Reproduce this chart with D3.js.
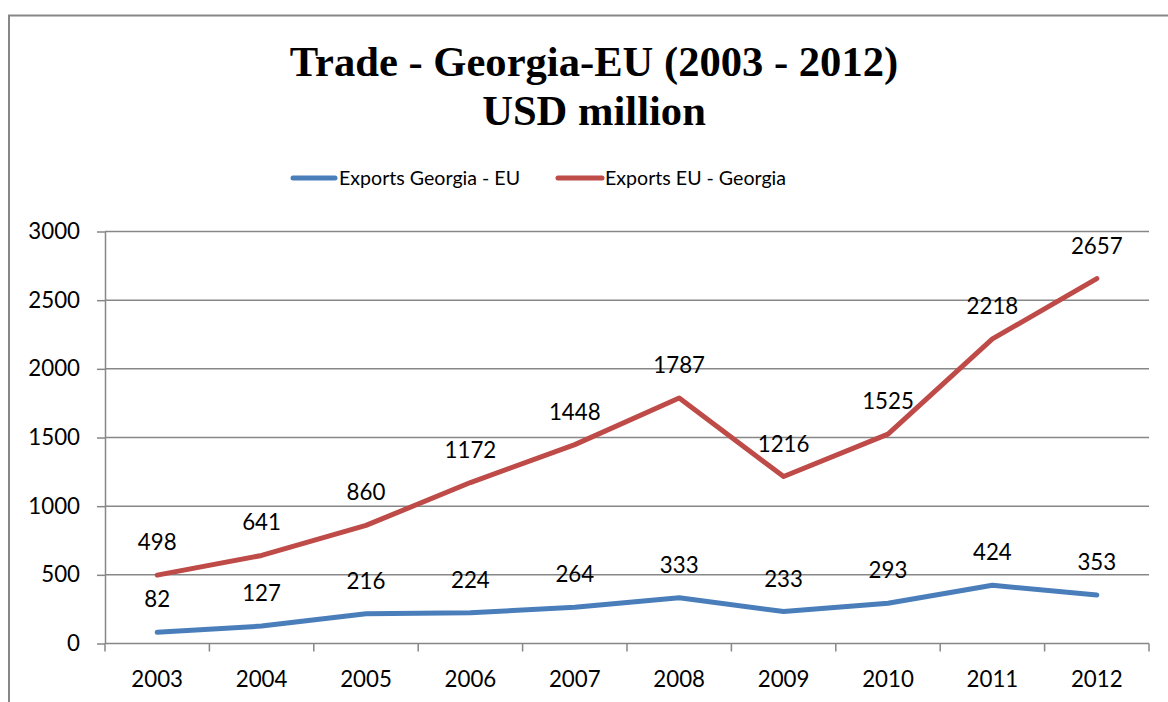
<!DOCTYPE html>
<html>
<head>
<meta charset="utf-8">
<script src="https://cdn.jsdelivr.net/npm/d3@7"></script>
<style>
  html, body { margin: 0; padding: 0; background: #fff; }
  svg { display: block; }
</style>
</head>
<body>
<svg id="chart" width="1168" height="702"></svg>
<script>
// Trade between Georgia and the EU, USD million
const years = ["2003", "2004", "2005", "2006", "2007", "2008", "2009", "2010", "2011", "2012"];
const exportsGeorgiaEU = [82, 127, 216, 224, 264, 333, 233, 293, 424, 353];
const exportsEUGeorgia = [498, 641, 860, 1172, 1448, 1787, 1216, 1525, 2218, 2657];
const yTicks = [0, 500, 1000, 1500, 2000, 2500, 3000];
const seriesNames = ["Exports Georgia - EU", "Exports EU - Georgia"];
const seriesColors = ["#4a7ebb", "#be4b48"];

const svg = d3.select("#chart");
const font = "Lato, 'Open Sans', sans-serif";
const numSize = 22.3;
const gridColor = "#878787";

// outer frame of the chart
svg.append("rect")
  .attr("x", 9).attr("y", 15.5)
  .attr("width", 1300).attr("height", 800)
  .attr("fill", "none")
  .attr("stroke", gridColor)
  .attr("stroke-width", 2);

// title
const title = svg.append("text")
  .attr("text-anchor", "middle")
  .attr("font-family", "'Liberation Serif', 'Times New Roman', serif")
  .attr("font-weight", "bold")
  .attr("font-size", 42.6)
  .attr("fill", "#000");
title.append("tspan").attr("x", 594).attr("y", 76).text("Trade - Georgia-EU (2003 - 2012)");
title.append("tspan").attr("x", 594).attr("y", 125).text("USD million");

// plot area
const plotLeft = 105, plotRight = 1149, plotTop = 231.5, plotBottom = 643.5;

const x = d3.scaleBand().domain(years).range([plotLeft, plotRight]);
const y = d3.scaleLinear().domain([0, 3000]).range([plotBottom, plotTop]);

// horizontal gridlines
svg.append("g")
  .selectAll("line")
  .data(yTicks.filter(d => d > 0))
  .join("line")
  .attr("x1", plotLeft).attr("x2", plotRight)
  .attr("y1", d => y(d)).attr("y2", d => y(d))
  .attr("stroke", gridColor)
  .attr("stroke-width", 1.5);

// y axis
const yAxis = svg.append("g")
  .attr("transform", `translate(${plotLeft},0)`)
  .call(d3.axisLeft(y).tickValues(yTicks).tickFormat(d3.format("d"))
    .tickSize(8).tickPadding(17).tickSizeOuter(0));
yAxis.select(".domain").attr("stroke", gridColor).attr("stroke-width", 1.5);
yAxis.selectAll(".tick line").attr("stroke", gridColor).attr("stroke-width", 1.5);
yAxis.selectAll(".tick text")
  .attr("font-family", font).attr("font-size", numSize).attr("fill", "#000");

// x axis: ticks sit on the category boundaries
const xAxisG = svg.append("g").attr("transform", `translate(0,${plotBottom})`);
xAxisG.append("line")
  .attr("x1", plotLeft).attr("x2", plotRight)
  .attr("stroke", gridColor).attr("stroke-width", 1.5);
const boundaries = years.map(d => x(d)).concat([x(years[years.length - 1]) + x.bandwidth()]);
xAxisG.selectAll("line.tk")
  .data(boundaries)
  .join("line")
  .attr("class", "tk")
  .attr("x1", d => d).attr("x2", d => d)
  .attr("y1", 0).attr("y2", 8)
  .attr("stroke", gridColor).attr("stroke-width", 1.5);
xAxisG.selectAll("text")
  .data(years)
  .join("text")
  .attr("x", d => x(d) + x.bandwidth() / 2)
  .attr("y", 43)
  .attr("text-anchor", "middle")
  .attr("font-family", font).attr("font-size", numSize).attr("fill", "#000")
  .text(d => d);

// lines and value labels
const line = d3.line()
  .x((d, i) => x(years[i]) + x.bandwidth() / 2)
  .y(d => y(d));

[exportsGeorgiaEU, exportsEUGeorgia].forEach((vals, s) => {
  svg.append("path")
    .datum(vals)
    .attr("d", line)
    .attr("fill", "none")
    .attr("stroke", seriesColors[s])
    .attr("stroke-width", 5)
    .attr("stroke-linecap", "round")
    .attr("stroke-linejoin", "round");

  svg.append("g")
    .selectAll("text")
    .data(vals)
    .join("text")
    .attr("x", (d, i) => x(years[i]) + x.bandwidth() / 2)
    .attr("y", d => y(d) - 25)
    .attr("text-anchor", "middle")
    .attr("font-family", font).attr("font-size", numSize).attr("fill", "#000")
    .text(d => d);
});

// legend
const legendItems = [
  { x1: 293, x2: 335, tx: 339 },
  { x1: 558, x2: 602, tx: 605 }
];
const legend = svg.append("g");
legendItems.forEach((it, i) => {
  legend.append("line")
    .attr("x1", it.x1).attr("x2", it.x2)
    .attr("y1", 178).attr("y2", 178)
    .attr("stroke", seriesColors[i])
    .attr("stroke-width", 5)
    .attr("stroke-linecap", "round");
  legend.append("text")
    .attr("x", it.tx).attr("y", 178)
    .attr("dy", "0.35em")
    .attr("font-family", font).attr("font-size", 19.6).attr("fill", "#000")
    .text(seriesNames[i]);
});
</script>
</body>
</html>
